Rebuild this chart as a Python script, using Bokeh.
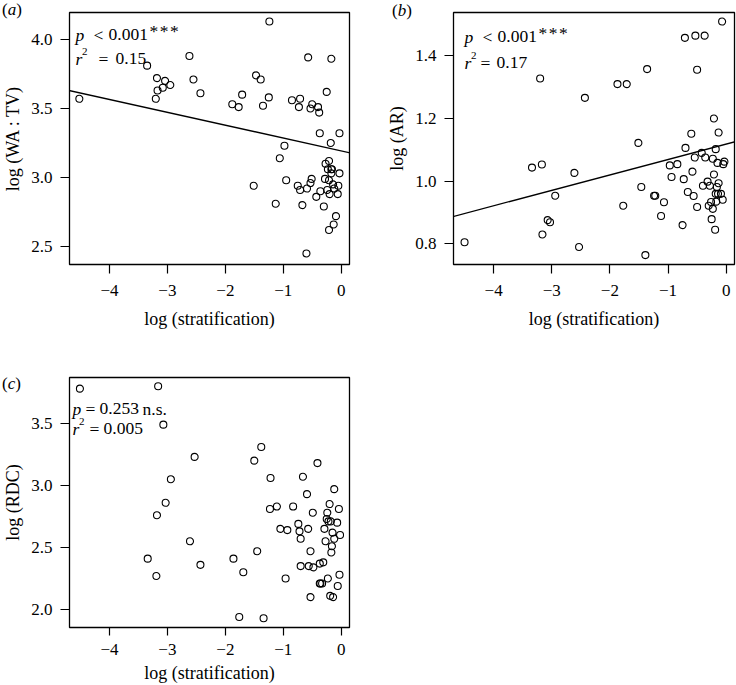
from bokeh.plotting import figure
from bokeh.models import Label, Slope, FixedTicker, Range1d, Div
from bokeh.layouts import column, row
from bokeh.embed import file_html
from bokeh.resources import INLINE

FONT = "Liberation Serif"

# ---------------- data ----------------
strat_a = [-4.52, -3.35, -3.18, -3.17, -3.20, -3.08, -3.04, -2.95, -2.62, -2.55, -2.43,
           -1.88, -1.77, -1.71, -1.47, -1.39, -1.35, -1.25, -1.24, -1.51, -1.13, -1.06,
           -0.98, -0.95, -0.85, -0.75, -0.71, -0.73, -0.71, -0.67, -0.59, -0.60, -0.57,
           -0.53, -0.50, -0.53, -0.51, -0.40, -0.38, -0.37, -0.43, -0.36, -0.30, -0.28,
           -0.27, -0.25, -0.23, -0.24, -0.21, -0.21, -0.21, -0.20, -0.18, -0.17, -0.17,
           -0.14, -0.16, -0.13, -0.09, -0.06, -0.05, -0.03, -0.03, -0.17, -0.12]
wa_tv = [3.57, 3.81, 3.72, 3.63, 3.57, 3.65, 3.70, 3.67, 3.88, 3.71, 3.61,
         3.53, 3.51, 3.60, 3.74, 3.71, 3.52, 3.58, 4.13, 2.94, 2.81, 3.14,
         3.23, 2.98, 3.56, 2.94, 3.57, 3.51, 2.91, 2.80, 2.92, 2.45, 3.87,
         3.50, 3.53, 2.96, 2.99, 3.51, 3.47, 3.32, 2.86, 2.90, 2.79, 2.99,
         3.10, 3.62, 3.06, 2.91, 2.98, 3.12, 2.62, 2.88, 3.25, 3.86, 3.06,
         2.95, 3.06, 2.66, 2.72, 2.88, 2.94, 3.03, 3.32, 3.03, 2.92]

strat_b = [-4.50, -3.34, -3.17, -3.20, -3.16, -3.07, -3.03, -2.94, -2.61, -2.53, -2.43,
           -1.87, -1.77, -1.71, -1.51, -1.46, -1.36, -1.39, -1.24, -1.22, -1.07, -1.12,
           -0.97, -0.94, -0.84, -0.75, -0.73, -0.71, -0.70, -0.66, -0.60, -0.58, -0.56,
           -0.54, -0.53, -0.50, -0.50, -0.42, -0.40, -0.37, -0.36, -0.32, -0.30, -0.28,
           -0.26, -0.25, -0.23, -0.23, -0.21, -0.21, -0.19, -0.18, -0.18, -0.17, -0.16,
           -0.15, -0.13, -0.13, -0.14, -0.09, -0.06, -0.05, -0.03, -0.07]
ar = [0.804, 1.043, 1.053, 1.328, 0.829, 0.875, 0.868, 0.953, 1.026, 0.789, 1.266,
      1.310, 0.921, 1.310, 1.122, 0.981, 1.358, 0.763, 0.953, 0.953, 0.932, 0.888,
      1.050, 1.013, 1.054, 0.859, 1.006, 1.458, 1.106, 0.965, 1.151, 1.030, 0.952,
      1.075, 1.465, 1.356, 0.917, 1.090, 0.985, 1.465, 1.075, 0.998, 0.921, 0.985,
      0.933, 0.878, 0.911, 1.071, 1.021, 1.200, 0.844, 1.102, 0.959, 0.934, 0.981,
      1.058, 1.155, 0.993, 0.959, 0.959, 0.940, 1.054, 1.062, 1.510]

strat_c = [-4.51, -3.16, -3.07, -3.34, -3.19, -3.18, -3.03, -2.94, -2.61, -2.53, -2.43,
           -1.86, -1.76, -1.69, -1.50, -1.45, -1.38, -1.34, -1.23, -1.22, -1.11, -1.05,
           -0.96, -0.93, -0.83, -0.74, -0.72, -0.70, -0.70, -0.66, -0.59, -0.57, -0.56,
           -0.53, -0.53, -0.49, -0.48, -0.41, -0.37, -0.36, -0.33, -0.37, -0.31, -0.29,
           -0.27, -0.25, -0.24, -0.22, -0.23, -0.20, -0.19, -0.18, -0.17, -0.15, -0.16,
           -0.14, -0.12, -0.12, -0.07, -0.06, -0.04, -0.03, -0.02]
rdc = [3.78, 3.80, 3.49, 2.41, 2.27, 2.76, 2.86, 3.05, 2.55, 3.23, 2.36,
       2.41, 1.94, 2.30, 3.20, 2.47, 3.31, 1.93, 2.81, 3.06, 2.83, 2.65,
       2.25, 2.64, 2.83, 2.69, 2.63, 2.57, 2.35, 3.07, 2.93, 2.65, 2.35,
       2.47, 2.10, 2.78, 2.34, 3.18, 2.21, 2.21, 2.21, 2.37, 2.38, 2.65,
       2.55, 2.73, 2.78, 2.71, 2.25, 2.85, 2.11, 2.71, 2.46, 2.62, 2.51,
       2.10, 2.57, 2.97, 2.70, 2.19, 2.81, 2.28, 2.60]

x_ticks = [-4, -3, -2, -1, 0]
x_tick_labels = ["\u22124", "\u22123", "\u22122", "\u22121", "0"]
a_ticks = [2.5, 3.0, 3.5, 4.0]
a_tick_labels = ["2.5", "3.0", "3.5", "4.0"]
b_ticks = [0.8, 1.0, 1.2, 1.4]
b_tick_labels = ["0.8", "1.0", "1.2", "1.4"]
c_ticks = [2.0, 2.5, 3.0, 3.5]
c_tick_labels = ["2.0", "2.5", "3.0", "3.5"]

x_label = "log (stratification)"
a_label = "log (WA : TV)"
b_label = "log (AR)"
c_label = "log (RDC)"
panel_letters = ["a", "b", "c"]

fit_a = (-0.093, 3.193)   # slope, intercept
fit_b = (0.0493, 1.118)

X_RANGE = (-4.69, 0.143)
TICK_SIZE = "17px"
LABEL_SIZE = "18px"
NOTE_SIZE = "17.5px"


def make_panel(xs, ys, yr, yticks, ylabels, ylab, width, height,
               bl, br, bt, bb, x_tick_out, x_standoff, xlab_standoff):
    p = figure(width=width, height=height,
               x_range=Range1d(*X_RANGE), y_range=Range1d(*yr),
               output_backend="svg", toolbar_location=None,
               min_border_left=bl, min_border_right=br,
               min_border_top=bt, min_border_bottom=bb)
    p.grid.visible = False
    p.outline_line_color = "black"
    p.outline_line_width = 1.3
    p.background_fill_color = "white"
    p.border_fill_color = "white"
    p.scatter(xs, ys, size=7, fill_color=None, line_color="black", line_width=1.1)
    for ax in (p.xaxis[0], p.yaxis[0]):
        ax.axis_line_color = None
        ax.major_tick_line_color = "black"
        ax.major_tick_line_width = 1.2
        ax.major_tick_in = 0
        ax.minor_tick_line_color = None
        ax.major_label_text_font = FONT
        ax.major_label_text_font_size = TICK_SIZE
        ax.major_label_text_color = "black"
        ax.axis_label_text_font = FONT
        ax.axis_label_text_font_size = LABEL_SIZE
        ax.axis_label_text_font_style = "normal"
        ax.axis_label_text_color = "black"
    p.xaxis.ticker = FixedTicker(ticks=x_ticks)
    p.xaxis.major_label_overrides = dict(zip(x_ticks, x_tick_labels))
    p.xaxis.axis_label = x_label
    p.xaxis.major_tick_out = x_tick_out
    p.xaxis.major_label_standoff = x_standoff
    p.xaxis.axis_label_standoff = xlab_standoff
    p.yaxis.ticker = FixedTicker(ticks=yticks)
    p.yaxis.major_label_overrides = dict(zip(yticks, ylabels))
    p.yaxis.axis_label = ylab
    p.yaxis.major_tick_out = 9
    p.yaxis.major_label_standoff = 8
    p.yaxis.axis_label_standoff = 5
    return p


def txt(p, dx, dy, text, size=NOTE_SIZE, style="normal"):
    """dx, dy: pixels right of / below the top-left corner of the frame."""
    p.add_layout(Label(x=p.x_range.start, y=p.y_range.end,
                       x_offset=dx, y_offset=-dy, text=text,
                       text_font=FONT, text_font_size=size,
                       text_font_style=style, text_color="black",
                       text_align="left", text_baseline="alphabetic"))


def p_line(p, dx, dy, lt_dx, val_dx, star_dx):
    txt(p, dx, dy, "p", style="italic")
    txt(p, lt_dx, dy, "<")
    txt(p, val_dx, dy, "0.001")
    for k in range(3):
        txt(p, star_dx + 10.3 * k, dy - 3.5, "*")


def r2_line(p, dx, dy, eq_dx, val_dx, val):
    txt(p, dx, dy, "r", style="italic")
    txt(p, dx + 6.5, dy - 7, "2", size="11px")
    txt(p, eq_dx, dy, "=")
    txt(p, val_dx, dy, val)


def tag(letter, left, top):
    html = ('<span style="font-family:\'Liberation Serif\';font-size:17px;'
            'line-height:19px;color:black;white-space:nowrap;">'
            '(<i>%s</i>)</span>' % letter)
    return Div(text=html, width=24, height=19,
               styles={"position": "absolute", "left": "%dpx" % left,
                       "top": "%dpx" % top, "margin": "0", "padding": "0"})


# panel (a)
pa = make_panel(strat_a, wa_tv, (2.37, 4.195), a_ticks, a_tick_labels, a_label,
                384, 333, 69, 35, 12, 69, 9, 11, 10)
pa.add_layout(Slope(gradient=fit_a[0], y_intercept=fit_a[1],
                    line_color="black", line_width=1.3))
p_line(pa, 6, 22, 24, 39, 80)
r2_line(pa, 6, 46, 29, 46, "0.15")

# panel (b)
pb = make_panel(strat_b, ar, (0.733, 1.539), b_ticks, b_tick_labels, b_label,
                352, 333, 69, 2, 12, 69, 9, 11, 10)
pb.add_layout(Slope(gradient=fit_b[0], y_intercept=fit_b[1],
                    line_color="black", line_width=1.3))
p_line(pb, 11, 24, 29, 44, 85)
r2_line(pb, 11, 50, 27, 43, "0.17")

# panel (c)
pc = make_panel(strat_c, rdc, (1.855, 3.87), c_ticks, c_tick_labels, c_label,
                384, 352, 69, 35, 44, 56, 8, 8, 5)
txt(pc, 3, 31, "p", style="italic")
txt(pc, 16, 31, "=")
txt(pc, 30, 31, "0.253")
txt(pc, 73, 31, "n.s.")
r2_line(pc, 3, 51, 20, 34, "0.005")

tags = [tag(panel_letters[0], 2, 0), tag(panel_letters[1], 392, 1),
        tag(panel_letters[2], 2, 374)]

layout = column(row(pa, pb), pc, *tags)

with open("out.html", "w") as f:
    f.write(file_html(layout, INLINE))
